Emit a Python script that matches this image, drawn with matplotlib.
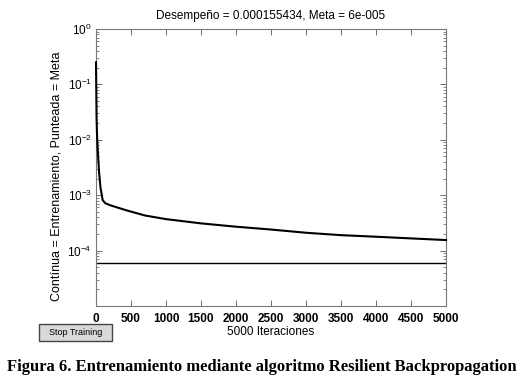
import numpy as np
import matplotlib
matplotlib.use("Agg")
import matplotlib.pyplot as plt
from matplotlib.patches import Rectangle
from matplotlib.ticker import LogLocator, FixedLocator

# -----------------------------
# Training performance
# -----------------------------
epochs = [0, 8, 15, 25, 45, 65, 95, 130, 200, 420, 700, 1000, 1500,
          2000, 2500, 3000, 3500, 4000, 4500, 5000]
perf = [0.25, 0.026, 0.012, 6.5e-3, 2.5e-3, 1.35e-3, 8.2e-4, 7.2e-4,
        6.6e-4, 5.4e-4, 4.3e-4, 3.7e-4, 3.1e-4, 2.7e-4, 2.4e-4, 2.1e-4,
        1.9e-4, 1.78e-4, 1.66e-4, 1.55e-4]
goal = 6e-5

title_txt = "Desempeño = 0.000155434, Meta = 6e-005"
ylabel_txt = "Contínua = Entrenamiento, Punteada = Meta"
xlabel_txt = "5000 Iteraciones"
caption_txt = "Figura 6. Entrenamiento mediante algoritmo Resilient Backpropagation"
xticks = [0, 500, 1000, 1500, 2000, 2500, 3000, 3500, 4000, 4500, 5000]
yticks = [1e-4, 1e-3, 1e-2, 1e-1, 1e0]

plt.rcParams["font.family"] = ["Liberation Sans", "DejaVu Sans"]

fig = plt.figure(figsize=(5.25, 3.86), dpi=100)
ax = fig.add_axes([96 / 525, 1 - 306 / 386, 350 / 525, 277 / 386])

ax.semilogy(epochs, perf, color="black", linewidth=1.5, clip_on=False,
            zorder=3)
ax.axhline(goal, color="black", linewidth=1.0)

ax.set_xlim(0, 5000)
ax.set_ylim(1e-5, 1)
ax.xaxis.set_major_locator(FixedLocator(xticks))
ax.yaxis.set_major_locator(FixedLocator(yticks))
ax.yaxis.set_minor_locator(LogLocator(base=10, subs=np.arange(2, 10), numticks=10))

ax.tick_params(which="both", direction="in", top=True, right=True,
               colors="#555555", labelcolor="black")
ax.tick_params(which="major", length=4, width=0.6)
ax.tick_params(which="minor", length=2, width=0.5)
ax.tick_params(axis="x", labelsize=8.5, pad=5)
ax.tick_params(axis="y", labelsize=8.5, pad=3)
for lab in ax.get_xticklabels():
    lab.set_fontweight("bold")
for sp in ax.spines.values():
    sp.set_color("#777777")
    sp.set_linewidth(0.8)

ax.set_title(title_txt, fontsize=8.5, pad=7)
ax.set_xlabel(xlabel_txt, fontsize=8.5, labelpad=1)
ax.set_ylabel(ylabel_txt, fontsize=9)
ax.yaxis.set_label_coords(-0.097, 0.47)

# Stop Training button
btn = Rectangle((39 / 525, 1 - 341 / 386), 73 / 525, 17 / 386,
                transform=fig.transFigure, facecolor="#d9d9d9",
                edgecolor="#444444", linewidth=1.0)
fig.patches.append(btn)
fig.text(75.5 / 525, 1 - 332.5 / 386, "Stop Training", fontsize=6.5,
         ha="center", va="center")

fig.text(262 / 525, 1 - 367 / 386, caption_txt, fontsize=12,
         fontweight="bold", family="Liberation Serif",
         ha="center", va="center")

fig.savefig("out.png", dpi=100)
plt.close(fig)
